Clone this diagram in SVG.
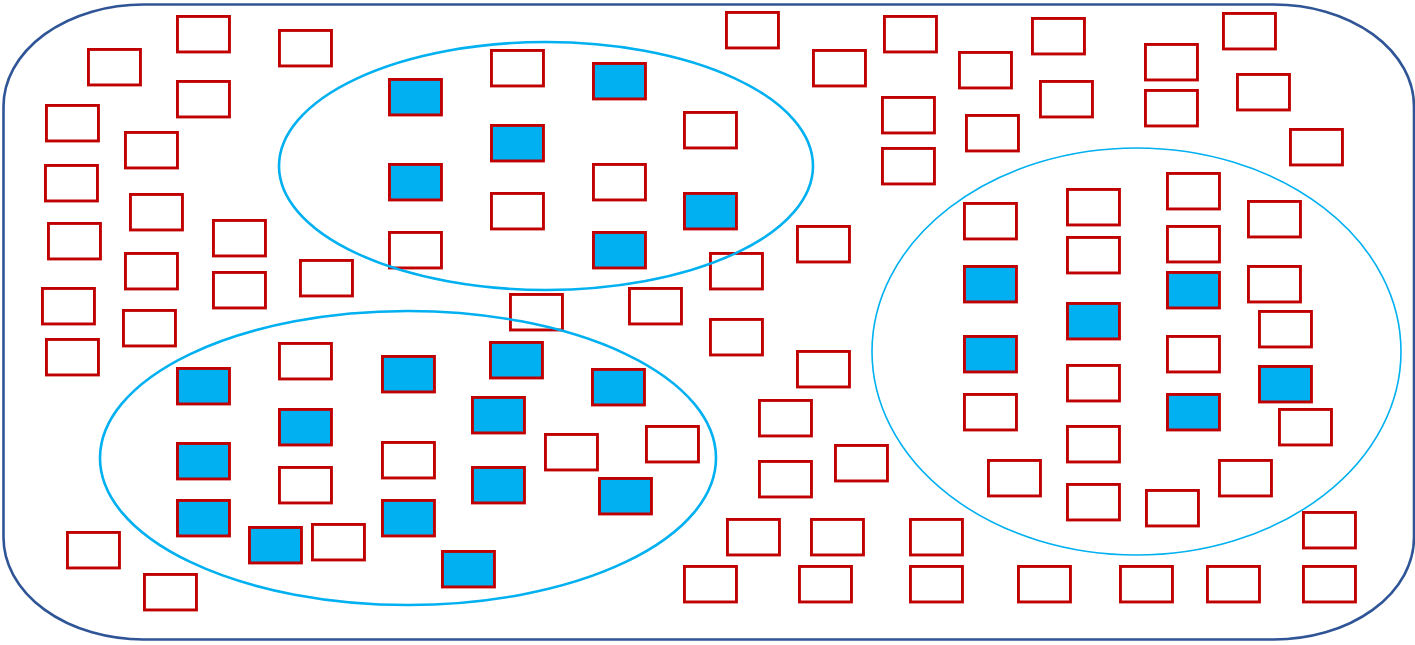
<svg xmlns="http://www.w3.org/2000/svg" width="1415" height="645" viewBox="0 0 1415 645">
<style>
.r{fill:none;stroke:#C00000;stroke-width:2.9}
.b{fill:#00B0F0;stroke:#C00000;stroke-width:2.9}
.e{fill:none;stroke:#00B0F0;stroke-width:2.6}
.e2{fill:none;stroke:#00B0F0;stroke-width:1.6}
</style>
<defs>
<rect id="w" class="r" x="1.45" y="1.45" width="52" height="35.5"/>
<rect id="f" class="b" x="1.45" y="1.45" width="52" height="35.5"/>
</defs>
<rect id="outer" x="3.5" y="4.5" width="1410.5" height="635" rx="140" ry="102" fill="#fff" stroke="#2F5597" stroke-width="2.6"/>
<g id="items">
<use href="#w" x="176" y="15"/>
<use href="#w" x="278" y="29"/>
<use href="#w" x="87" y="48"/>
<use href="#w" x="176" y="80"/>
<use href="#w" x="45" y="104"/>
<use href="#w" x="124" y="131"/>
<use href="#w" x="44" y="164"/>
<use href="#w" x="129" y="193"/>
<use href="#w" x="47" y="222"/>
<use href="#w" x="212" y="219"/>
<use href="#w" x="124" y="252"/>
<use href="#w" x="212" y="271"/>
<use href="#w" x="299" y="259"/>
<use href="#w" x="41" y="287"/>
<use href="#w" x="122" y="309"/>
<use href="#f" x="388" y="78"/>
<use href="#f" x="388" y="163"/>
<use href="#w" x="388" y="231"/>
<use href="#w" x="45" y="338"/>
<use href="#f" x="176" y="367"/>
<use href="#w" x="278" y="342"/>
<use href="#f" x="381" y="355"/>
<use href="#f" x="278" y="408"/>
<use href="#f" x="176" y="442"/>
<use href="#w" x="278" y="466"/>
<use href="#w" x="381" y="441"/>
<use href="#f" x="176" y="499"/>
<use href="#f" x="248" y="526"/>
<use href="#w" x="311" y="523"/>
<use href="#f" x="381" y="499"/>
<use href="#f" x="441" y="550"/>
<use href="#w" x="66" y="531"/>
<use href="#w" x="143" y="573"/>
<use href="#w" x="490" y="49"/>
<use href="#f" x="592" y="62"/>
<use href="#f" x="490" y="124"/>
<use href="#w" x="683" y="111"/>
<use href="#w" x="592" y="163"/>
<use href="#w" x="490" y="192"/>
<use href="#f" x="683" y="192"/>
<use href="#f" x="592" y="231"/>
<use href="#w" x="725" y="11"/>
<use href="#w" x="812" y="49"/>
<use href="#w" x="883" y="15"/>
<use href="#w" x="881" y="96"/>
<use href="#w" x="881" y="147"/>
<use href="#w" x="796" y="225"/>
<use href="#w" x="709" y="252"/>
<use href="#w" x="509" y="293"/>
<use href="#w" x="628" y="287"/>
<use href="#w" x="709" y="318"/>
<use href="#f" x="489" y="341"/>
<use href="#f" x="591" y="368"/>
<use href="#f" x="471" y="396"/>
<use href="#w" x="544" y="433"/>
<use href="#w" x="645" y="425"/>
<use href="#f" x="471" y="466"/>
<use href="#f" x="598" y="477"/>
<use href="#w" x="796" y="350"/>
<use href="#w" x="758" y="399"/>
<use href="#w" x="758" y="460"/>
<use href="#w" x="834" y="444"/>
<use href="#w" x="726" y="518"/>
<use href="#w" x="810" y="518"/>
<use href="#w" x="909" y="518"/>
<use href="#w" x="683" y="565"/>
<use href="#w" x="798" y="565"/>
<use href="#w" x="909" y="565"/>
<use href="#w" x="1031" y="17"/>
<use href="#w" x="958" y="51"/>
<use href="#w" x="1039" y="80"/>
<use href="#w" x="965" y="114"/>
<use href="#w" x="1144" y="43"/>
<use href="#w" x="1144" y="89"/>
<use href="#w" x="1222" y="12"/>
<use href="#w" x="1236" y="73"/>
<use href="#w" x="1289" y="128"/>
<use href="#w" x="963" y="202"/>
<use href="#w" x="1066" y="188"/>
<use href="#w" x="1066" y="236"/>
<use href="#w" x="1166" y="172"/>
<use href="#w" x="1166" y="225"/>
<use href="#f" x="1166" y="271"/>
<use href="#w" x="1247" y="200"/>
<use href="#w" x="1247" y="265"/>
<use href="#w" x="1258" y="310"/>
<use href="#f" x="963" y="265"/>
<use href="#f" x="1066" y="302"/>
<use href="#f" x="963" y="335"/>
<use href="#w" x="963" y="393"/>
<use href="#w" x="1066" y="364"/>
<use href="#w" x="1066" y="425"/>
<use href="#w" x="1066" y="483"/>
<use href="#w" x="1166" y="335"/>
<use href="#f" x="1166" y="393"/>
<use href="#f" x="1258" y="365"/>
<use href="#w" x="1278" y="408"/>
<use href="#w" x="987" y="459"/>
<use href="#w" x="1145" y="489"/>
<use href="#w" x="1218" y="459"/>
<use href="#w" x="1302" y="511"/>
<use href="#w" x="1017" y="565"/>
<use href="#w" x="1119" y="565"/>
<use href="#w" x="1206" y="565"/>
<use href="#w" x="1302" y="565"/>
</g>
<g id="groups">
<ellipse id="g1" class="e" cx="546" cy="166" rx="267" ry="124"/>
<ellipse id="g2" class="e" cx="408" cy="458" rx="308" ry="147"/>
<ellipse id="g3" class="e2" cx="1136.5" cy="351.5" rx="264.5" ry="203.5"/>
</g>
</svg>
